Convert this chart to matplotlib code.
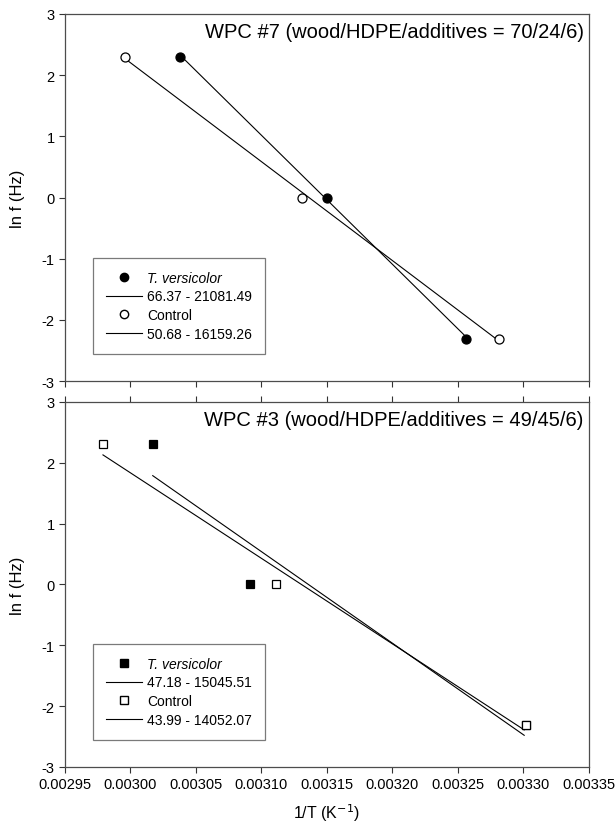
#!/usr/bin/env python3
"""Arrhenius plots (ln f vs 1/T) for two WPC formulations."""

import matplotlib

matplotlib.use("Agg")

import matplotlib.pyplot as plt
import matplotlib.ticker as mticker
import numpy as np

plt.rcParams["font.family"] = ["Liberation Sans", "DejaVu Sans"]
plt.rcParams["axes.unicode_minus"] = False

# ln f values for 10, 1 and 0.1 Hz
LN_F = [2.303, 0.0, -2.303]

# WPC #7 (70/24/6)
WPC7_TV_X = [0.003038, 0.003150, 0.003256]
WPC7_CTRL_X = [0.002996, 0.003131, 0.003281]
WPC7_TV_FIT = (66.37, 21081.49)
WPC7_CTRL_FIT = (50.68, 16159.26)

# WPC #3 (49/45/6)
WPC3_TV_X = [0.003017, 0.003091, 0.003302]
WPC3_CTRL_X = [0.002979, 0.003111, 0.003302]
WPC3_TV_FIT = (47.18, 15045.51)
WPC3_CTRL_FIT = (43.99, 14052.07)

X_TICKS = [0.00295, 0.00300, 0.00305, 0.00310, 0.00315,
           0.00320, 0.00325, 0.00330, 0.00335]
Y_TICKS = [-3, -2, -1, 0, 1, 2, 3]


def fit_line(xs, fit, x_end=None):
    a, b = fit
    x = np.array([min(xs), max(xs) if x_end is None else x_end])
    return x, a - b * x


def draw_panel(ax, title, tv_x, ctrl_x, tv_fit, ctrl_fit, marker, ms, x_end=None):
    ax.plot(tv_x, LN_F, linestyle="none", marker=marker, ms=ms,
            mfc="black", mec="black", mew=0.9, zorder=3)
    ax.plot(ctrl_x, LN_F, linestyle="none", marker=marker, ms=ms,
            mfc="white", mec="black", mew=0.9, zorder=3)
    tx, ty = fit_line(tv_x, tv_fit, x_end)
    cx, cy = fit_line(ctrl_x, ctrl_fit, x_end)
    ax.plot(tx, ty, color="black", lw=0.8, zorder=2)
    ax.plot(cx, cy, color="black", lw=0.8, zorder=2)

    handles = [
        plt.Line2D([], [], linestyle="none", marker=marker, ms=ms - 0.5,
                   mfc="black", mec="black"),
        plt.Line2D([], [], color="black", lw=0.8),
        plt.Line2D([], [], linestyle="none", marker=marker, ms=ms - 0.5,
                   mfc="white", mec="black"),
        plt.Line2D([], [], color="black", lw=0.8),
    ]
    labels = [
        "T. versicolor",
        "{:.2f} - {:.2f}".format(*tv_fit),
        "Control",
        "{:.2f} - {:.2f}".format(*ctrl_fit),
    ]
    leg = ax.legend(handles, labels, loc="lower left",
                    bbox_to_anchor=(0.054, 0.075), fontsize=10,
                    frameon=True, fancybox=False, edgecolor="0.35",
                    borderpad=0.9, handlelength=2.6, handletextpad=0.4,
                    labelspacing=0.35, borderaxespad=0.0)
    leg.get_frame().set_linewidth(0.9)
    leg.get_texts()[0].set_fontstyle("italic")

    ax.text(0.99, 0.952, title, transform=ax.transAxes, ha="right", va="center",
            fontsize=14.5)

    ax.set_xlim(0.00295, 0.00335)
    ax.set_ylim(-3, 3)
    ax.set_xticks(X_TICKS)
    ax.set_yticks(Y_TICKS)
    ax.set_ylabel("ln f (Hz)", fontsize=12, labelpad=12)
    ax.tick_params(direction="out", length=4, width=0.8, labelsize=10.5,
                   color="0.2")
    for sp in ax.spines.values():
        sp.set_linewidth(0.9)
        sp.set_color("0.3")


def main() -> None:
    fig = plt.figure(figsize=(6.16, 8.29), dpi=100)
    ax1 = fig.add_axes([0.1055, 0.539, 0.8505, 0.443])
    ax2 = fig.add_axes([0.1055, 0.0736, 0.8505, 0.4404])

    draw_panel(ax1, "WPC #7 (wood/HDPE/additives = 70/24/6)",
               WPC7_TV_X, WPC7_CTRL_X, WPC7_TV_FIT, WPC7_CTRL_FIT, "o", 6.5)
    draw_panel(ax2, "WPC #3 (wood/HDPE/additives = 49/45/6)",
               WPC3_TV_X, WPC3_CTRL_X, WPC3_TV_FIT, WPC3_CTRL_FIT, "s", 6.0,
               x_end=0.0033006)

    ax1.tick_params(axis="x", labelbottom=False)
    ax2.tick_params(axis="x", top=True, labeltop=False)
    ax2.xaxis.set_major_formatter(mticker.FormatStrFormatter("%.5f"))
    ax2.set_xlabel("1/T (K$^{-1}$)", fontsize=11.5, labelpad=7)

    fig.savefig("out.png", dpi=100)
    plt.close(fig)


if __name__ == "__main__":
    main()
